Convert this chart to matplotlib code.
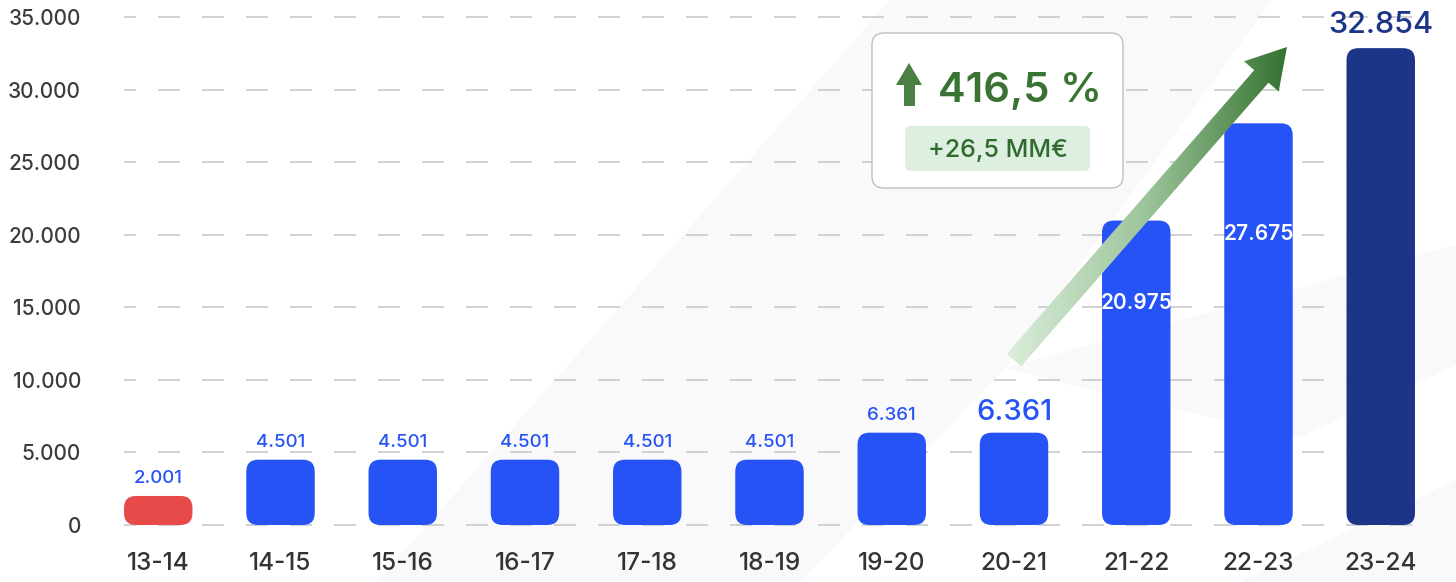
import matplotlib.pyplot as plt
import numpy as np
from matplotlib.colors import LinearSegmentedColormap
from matplotlib.patches import FancyBboxPatch, Polygon

plt.rcParams['font.family'] = ['Inter', 'DejaVu Sans']
plt.rcParams['font.weight'] = 'medium'

# datos
seasons = ['13-14', '14-15', '15-16', '16-17', '17-18', '18-19',
           '19-20', '20-21', '21-22', '22-23', '23-24']
values = [2001, 4501, 4501, 4501, 4501, 4501, 6361, 6361, 20975, 27675, 32854]
bar_colors = ['#E84A4A'] + ['#2653F6'] * 9 + ['#1C3588']
yticks = [0, 5000, 10000, 15000, 20000, 25000, 30000, 35000]
growth_pct = '416,5 %'
growth_abs = '+26,5 MM€'


def fmt(v):
    return '{:,}'.format(v).replace(',', '.')


W, H = 1456, 582
fig = plt.figure(figsize=(W / 100, H / 100), dpi=100)

# fondo: marca de agua muy clara
bg = fig.add_axes([0, 0, 1, 1], zorder=0)
bg.set_xlim(0, W)
bg.set_ylim(H, 0)
bg.axis('off')
watermark = [
    [(890, 0), (1272, 0), (1005, 368), (800, 582), (377, 582)],
    [(1005, 368), (1456, 245), (1456, 365), (1300, 437), (1100, 392)],
    [(1240, 582), (1456, 480), (1456, 582)],
]
for poly in watermark:
    bg.add_patch(Polygon(poly, closed=True, facecolor='#F9F9FB', edgecolor='none'))

# ejes principales
px_per_unit = 72.57 / 5000
y_lo, y_hi = -400, 35400
bottom_px = 525 - y_lo * px_per_unit
top_px = 17 - (y_hi - 35000) * px_per_unit
x_left, x_right = 124, 1416
step, x0 = 122.25, 158.25
ax = fig.add_axes([x_left / W, 1 - bottom_px / H,
                   (x_right - x_left) / W, (bottom_px - top_px) / H], zorder=1)
ax.patch.set_alpha(0)
ax.set_xlim((x_left - x0) / step, (x_right - x0) / step)
ax.set_ylim(y_lo, y_hi)

x = np.arange(len(seasons))
bars = ax.bar(x, values, width=0.56, color=bar_colors)
r = 12 / step
aspect = (12 / px_per_unit) / r
for b, c in zip(bars, bar_colors):
    p = FancyBboxPatch((b.get_x(), 0), b.get_width(), b.get_height(),
                       boxstyle='round,pad=0,rounding_size=%f' % r,
                       mutation_aspect=aspect, facecolor=c, edgecolor='none', zorder=2)
    ax.add_patch(p)
    b.remove()

# etiquetas de valor
for i, v in enumerate(values):
    if i <= 6:
        ax.annotate(fmt(v), (i, v), xytext=(0, 9), textcoords='offset points',
                    ha='center', va='baseline', fontsize=13.5, color='#2653F6')
    elif i == 7:
        ax.annotate(fmt(v), (i, v), xytext=(0, 9), textcoords='offset points',
                    ha='center', va='baseline', fontsize=21, color='#2653F6')
    elif i in (8, 9):
        ax.text(i, v * 0.71, fmt(v), ha='center', va='baseline',
                fontsize=15, color='white', fontweight='semibold', zorder=3)
    else:
        ax.annotate(fmt(v), (i, v), xytext=(0, 11), textcoords='offset points',
                    ha='center', va='baseline', fontsize=22, color='#1C3588')

ax.set_yticks(yticks)
ax.set_yticklabels([fmt(t) for t in yticks])
ax.set_xticks(x)
ax.set_xticklabels(seasons)
ax.yaxis.grid(True, color='#C9C9C9', linewidth=1.2, linestyle=(6, (13.2, 13.2)))
ax.set_axisbelow(True)
ax.tick_params(axis='y', length=0, pad=31, labelsize=15, labelcolor='#3C3C3C')
ax.tick_params(axis='x', length=0, pad=15, labelsize=17.5, labelcolor='#333333')
for s in ax.spines.values():
    s.set_visible(False)

# capa superior: flecha y recuadro
ov = fig.add_axes([0, 0, 1, 1], zorder=3)
ov.patch.set_alpha(0)
ov.axis('off')

tail = np.array([1014.0, 360.0])
tip = np.array([1287.0, 47.0])
d = (tip - tail) / np.linalg.norm(tip - tail)
n = np.array([-d[1], d[0]])
base = tip - d * 39
hs, hh = 9.5, 23
pts = [tail + n * hs, base + n * hs, base + n * hh, tip,
       base - n * hh, base - n * hs, tail - n * hs]
arrow = Polygon(pts, closed=True, facecolor='none', edgecolor='none')
ov.add_patch(arrow)
cmap = LinearSegmentedColormap.from_list('verde', ['#DDEFDD', '#9CC49A', '#2E6E29'])
grad = np.linspace(0, 1, 256).reshape(1, -1)
im = ov.imshow(grad, extent=(1000, 1295, 372, 40), cmap=cmap, aspect='auto', zorder=4)
im.set_clip_path(arrow)

ov.add_patch(FancyBboxPatch((872, 33), 251, 155, boxstyle='round,pad=0,rounding_size=12',
                            facecolor='white', edgecolor='#BFBFBF', linewidth=1.0, zorder=5))
ov.add_patch(FancyBboxPatch((905, 126), 185, 45, boxstyle='round,pad=0,rounding_size=6',
                            facecolor='#DDEFE0', edgecolor='none', zorder=6))
ov.add_patch(Polygon([(909, 63), (922, 85), (915, 85), (915, 106), (904, 106),
                      (904, 85), (896, 85)], closed=True, facecolor='#4A8044',
                     edgecolor='none', zorder=6))
ov.text(938, 102, growth_pct, ha='left', va='baseline', fontsize=30,
        color='#3A7432', fontweight='semibold', zorder=7)
ov.text(997.5, 157, growth_abs, ha='center', va='baseline', fontsize=18,
        color='#2F6B2C', zorder=7)

ov.set_xlim(0, W)
ov.set_ylim(H, 0)

fig.savefig('out.png', dpi=100)
